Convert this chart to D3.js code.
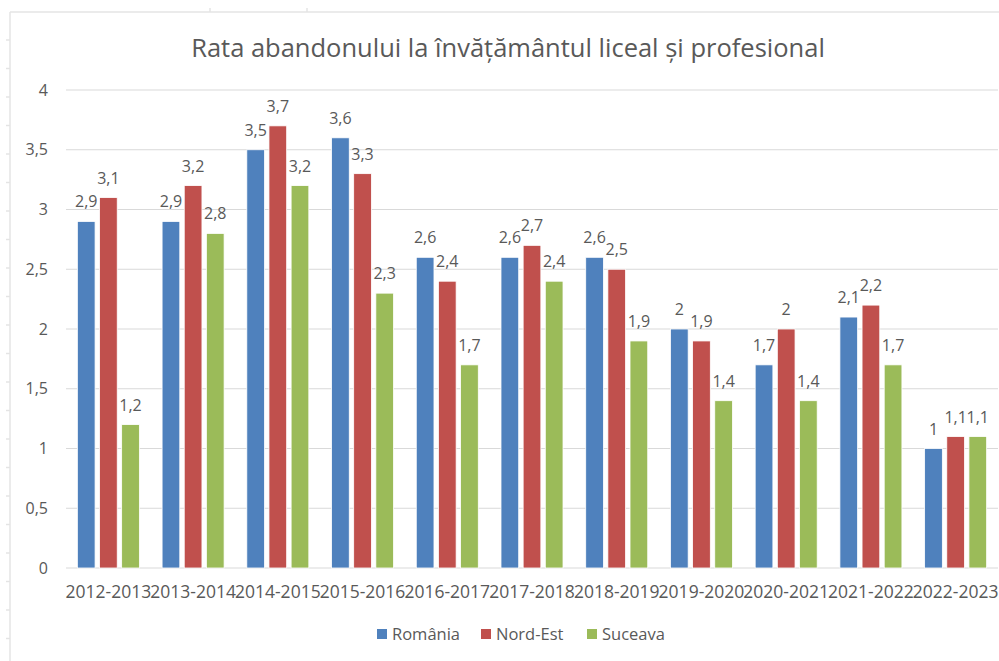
<!DOCTYPE html>
<html lang="ro">
<head>
  <meta charset="UTF-8">
  <title>Rata abandonului</title>
  <script src="https://d3js.org/d3.v7.min.js"></script>
  <style>
    body { margin: 0; background: #fff; }
    svg text { font-family: "Open Sans", sans-serif; fill: #595959; }
  </style>
</head>
<body>
  <div id="chart"></div>
  <script>
    // date
    const years = ["2012-2013", "2013-2014", "2014-2015", "2015-2016", "2016-2017", "2017-2018",
                   "2018-2019", "2019-2020", "2020-2021", "2021-2022", "2022-2023"];
    const seriesNames = ["România", "Nord-Est", "Suceava"];
    const romania = [2.9, 2.9, 3.5, 3.6, 2.6, 2.6, 2.6, 2, 1.7, 2.1, 1];
    const nordEst = [3.1, 3.2, 3.7, 3.3, 2.4, 2.7, 2.5, 1.9, 2, 2.2, 1.1];
    const suceava = [1.2, 2.8, 3.2, 2.3, 1.7, 2.4, 1.9, 1.4, 1.4, 1.7, 1.1];
    const yTicks = [0, 0.5, 1, 1.5, 2, 2.5, 3, 3.5, 4];
    const colors = ["#4f81bd", "#c0504d", "#9bbb59"];

    const allSeries = [romania, nordEst, suceava];
    const width = 999, height = 661;
    const margin = { left: 66, right: 1 };

    const svg = d3.select("#chart").append("svg")
      .attr("width", width)
      .attr("height", height);

    // chenarul slab din foaia de calcul
    const border = svg.append("g").attr("stroke", "#e4e4e4").attr("stroke-width", 1.5);
    border.append("line").attr("x1", 10).attr("x2", 10).attr("y1", 12).attr("y2", height);
    border.append("line").attr("x1", 10).attr("x2", width).attr("y1", 12).attr("y2", 12);
    d3.range(40, height, 28.5).forEach(y => {
      border.append("line").attr("x1", 6).attr("x2", 10).attr("y1", y).attr("y2", y);
    });
    [210, 307].forEach(x => {
      border.append("line").attr("x1", x).attr("x2", x).attr("y1", 8).attr("y2", 12);
    });

    const x0 = d3.scaleBand()
      .domain(years)
      .range([margin.left, width - margin.right])
      .paddingInner(0.268)
      .paddingOuter(0.134);

    const x1 = d3.scaleBand()
      .domain(seriesNames)
      .range([0, x0.bandwidth()])
      .paddingInner(0.2);

    // 0 -> 568, 4 -> 90
    const y = d3.scaleLinear()
      .domain([0, 4])
      .range([568, 90]);

    // linii de grilă
    svg.append("g")
      .selectAll("line")
      .data(yTicks)
      .join("line")
      .attr("x1", margin.left)
      .attr("x2", width - margin.right)
      .attr("y1", d => y(d))
      .attr("y2", d => y(d))
      .attr("stroke", "#d9d9d9")
      .attr("stroke-width", 1);

    // axa y
    svg.append("g")
      .selectAll("text")
      .data(yTicks)
      .join("text")
      .attr("x", 48)
      .attr("y", d => y(d))
      .attr("dy", "0.35em")
      .attr("text-anchor", "end")
      .style("font-size", "16px")
      .text(d => String(d).replace(".", ","));

    // axa x
    svg.append("g")
      .selectAll("text")
      .data(years)
      .join("text")
      .attr("x", d => x0(d) + x0.bandwidth() / 2)
      .attr("y", 598)
      .attr("text-anchor", "middle")
      .style("font-size", "17.5px")
      .text(d => d);

    // bare
    const groups = svg.append("g")
      .selectAll("g")
      .data(years)
      .join("g")
      .attr("transform", d => `translate(${x0(d)},0)`);

    groups.selectAll("rect")
      .data((d, i) => seriesNames.map((s, j) => ({ s, v: allSeries[j][i], c: colors[j] })))
      .join("rect")
      .attr("x", d => x1(d.s))
      .attr("width", x1.bandwidth())
      .attr("y", d => y(d.v))
      .attr("height", d => y(0) - y(d.v))
      .attr("fill", d => d.c)
      .attr("stroke", "#fff")
      .attr("stroke-width", 0.8);

    groups.selectAll("text")
      .data((d, i) => seriesNames.map((s, j) => ({ s, v: allSeries[j][i] })))
      .join("text")
      .attr("x", d => x1(d.s) + x1.bandwidth() / 2)
      .attr("y", d => y(d.v) - 14)
      .attr("text-anchor", "middle")
      .style("font-size", "16px")
      .text(d => String(d.v).replace(".", ","));

    // titlu
    svg.append("text")
      .attr("x", 508)
      .attr("y", 57)
      .attr("text-anchor", "middle")
      .style("font-size", "25.5px")
      .text("Rata abandonului la învățământul liceal și profesional");

    // legenda
    const legendX = [377, 481, 587];
    const legend = svg.append("g")
      .selectAll("g")
      .data(seriesNames)
      .join("g")
      .attr("transform", (d, i) => `translate(${legendX[i]},634)`);
    legend.append("rect")
      .attr("x", 0).attr("y", -5)
      .attr("width", 10).attr("height", 10)
      .attr("fill", (d, i) => colors[i]);
    legend.append("text")
      .attr("x", 15)
      .attr("dy", "0.35em")
      .style("font-size", "16.5px")
      .text(d => d);
  </script>
</body>
</html>
